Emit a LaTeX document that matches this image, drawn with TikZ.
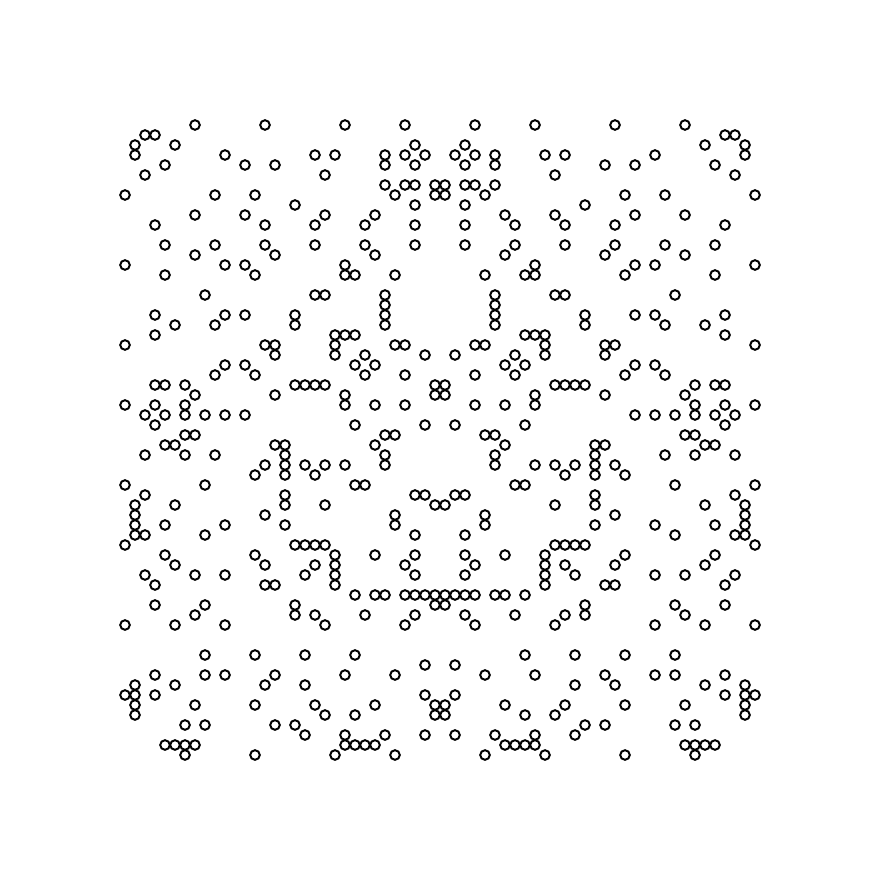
\documentclass[tikz,border=0pt]{standalone}
\begin{document}
\begin{tikzpicture}[x=0.25cm,y=-0.25cm]
			\tikzset{ring/.style={circle, draw=black, line width=1.4pt, inner sep=0pt, minimum size=2.4mm}};
			\useasboundingbox (0,0) rectangle (88,88);
			% left half of each row, mirrored onto columns 63-c
			\foreach \r/\cols in {
				0/{7,14,22,28}, 1/{2,3}, 2/{1,5,29}, 3/{1,10,19,21,26,28,30},
				4/{4,12,15,26,29}, 5/{2,20}, 6/{26,28,29,31}, 7/{0,9,13,27,31},
				8/{17,29}, 9/{7,12,20,25}, 10/{3,14,19,24,29},
				12/{4,9,14,19,24,29}, 13/{7,15,25}, 14/{0,10,12,22}, 15/{4,13,22,23,27},
				17/{8,19,20,26}, 18/{26}, 19/{3,10,12,17,26}, 20/{5,9,17,26},
				21/{3,21,22,23}, 22/{0,14,15,21,27,28}, 23/{15,21,24,30}, 24/{10,12,23,25},
				25/{9,13,24,28}, 26/{3,4,6,17,18,19,20,31}, 27/{7,15,22,31}, 28/{0,3,6,22,25,28},
				29/{2,4,6,8,10,12}, 30/{3,23,30}, 31/{6,7,26,27}, 32/{4,5,15,16,25},
				33/{2,6,9,16,26}, 34/{14,16,18,20,22,26}, 35/{13,16,19}, 36/{0,8,23,24},
				37/{2,16,29,30}, 38/{1,5,16,20,31}, 39/{1,14,27}, 40/{1,4,10,16,27},
				41/{1,2,8,29}, 42/{0,17,18,19,20}, 43/{4,13,21,25,29}, 44/{5,14,19,21,28},
				45/{2,7,10,18,21,29}, 46/{3,14,15,21}, 47/{23,25,26,28,29,30,31}, 48/{3,8,17,31},
				49/{7,17,19,24,29}, 50/{0,5,10,20,28},
				53/{8,13,18,23}, 54/{30}, 55/{3,8,10,15,22,27}, 56/{1,5,14,18},
				57/{0,1,3,30}, 58/{1,7,13,19,25,31}, 59/{1,20,23,31}, 60/{6,8,15,17},
				61/{18,22,26,30}, 62/{4,5,6,7,22,23,24,25}, 63/{6,13,21,27}} {
				\foreach \c in \cols {
					\pgfmathtruncatemacro\m{63-\c}
					\node[ring] (R\r-\c) at (12.5+\c,12.5+\r) {};
					\node[ring] (R\r-\m) at (12.5+\m,12.5+\r) {};
				}
			}
		\end{tikzpicture}
\end{document}
